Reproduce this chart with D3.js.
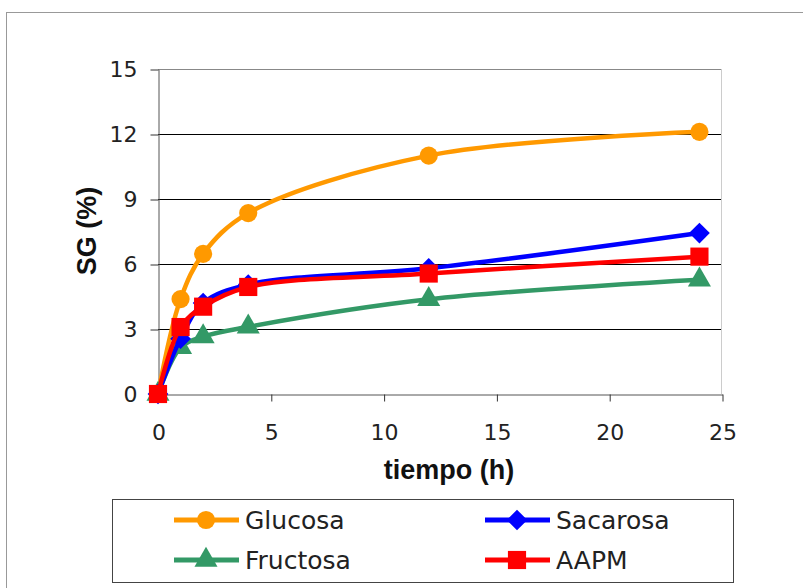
<!DOCTYPE html>
<html><head><meta charset="utf-8">
<script src="https://cdn.jsdelivr.net/npm/d3@7"></script>
<style>body{margin:0;background:#fff;} text{font-family:"DejaVu Sans",sans-serif;} text.title{font-family:"Liberation Sans",Arial,sans-serif;}</style>
</head><body><svg id="c" width="803" height="588"></svg>
<script>
const times = [0, 1, 2, 4, 12, 24];
const glucosa = [0, 4.38, 6.47, 8.35, 11.0, 12.1];
const sacarosa = [0, 2.55, 4.2, 5.05, 5.8, 7.43];
const fructosa = [0, 2.15, 2.65, 3.1, 4.37, 5.27];
const aapm = [0, 3.09, 4.03, 4.94, 5.56, 6.34];
const seriesNames = ["Glucosa", "Sacarosa", "Fructosa", "AAPM"];
const seriesColors = ["#FF9900", "#0000FF", "#339966", "#FF0000"];
const seriesSymbols = ["circle", "diamond", "triangle", "square"];
const xTicks = [0, 5, 10, 15, 20, 25];
const yTicks = [0, 3, 6, 9, 12, 15];

const svg = d3.select("#c");
svg.append("rect").attr("x",6.5).attr("y",12.5).attr("width",800).attr("height",580)
  .attr("fill","#fff").attr("stroke","#999").attr("stroke-width",1);

const x = d3.scaleLinear().domain([0,25]).range([158,722]);
const y = d3.scaleLinear().domain([0,15]).range([394,69]);

// gridlines
svg.append("g").selectAll("line").data(yTicks.filter(d=>d>0)).join("line")
  .attr("x1",158).attr("x2",722).attr("y1",d=>Math.round(y(d))+0.5).attr("y2",d=>Math.round(y(d))+0.5)
  .attr("stroke",d=>d===15?"#888":"#000").attr("stroke-width",1);
svg.append("line").attr("x1",721.5).attr("x2",721.5).attr("y1",69).attr("y2",394).attr("stroke","#ccc");

const yAxis = svg.append("g").attr("transform","translate(158.5,0.5)")
  .call(d3.axisLeft(y).tickValues(yTicks).tickSize(8).tickPadding(13).tickSizeOuter(0));
const xAxis = svg.append("g").attr("transform","translate(0.5,394.5)")
  .call(d3.axisBottom(x).tickValues(xTicks).tickSize(7).tickPadding(23).tickSizeOuter(0));
[yAxis,xAxis].forEach(a=>{
  a.select(".domain").attr("stroke","#555");
  a.selectAll(".tick line").attr("stroke","#333");
  a.selectAll("text").attr("font-size",22).attr("fill","#222").style("font-family","'DejaVu Sans', sans-serif");
});

svg.append("text").attr("class","title").attr("x",449).attr("y",479).attr("text-anchor","middle")
  .attr("font-size",27).attr("font-weight","bold").attr("fill","#111").text("tiempo (h)");
svg.append("text").attr("class","title").attr("transform","translate(96,231) rotate(-90)").attr("text-anchor","middle")
  .attr("font-size",27).attr("font-weight","bold").attr("fill","#111").text("SG (%)");

const allData = [glucosa, sacarosa, fructosa, aapm];
const symMap = {circle:d3.symbolCircle, diamond:d3.symbolSquare, triangle:d3.symbolTriangle, square:d3.symbolSquare};
const symSize = {circle:260, diamond:215, triangle:230, square:330};
const symRot = {circle:0, diamond:45, triangle:0, square:0};
const line = d3.line().x(d=>x(d[0])).y(d=>y(d[1])).curve(d3.curveCatmullRom.alpha(0.5));

const drawOrder = [0,2,1,3];
drawOrder.forEach(i=>{
  const s = seriesSymbols[i];
  const pts = times.map((t,j)=>[t, allData[i][j]]);
  svg.append("path").datum(pts).attr("d",line).attr("fill","none")
    .attr("stroke",seriesColors[i]).attr("stroke-width",4.5);
  svg.append("g").selectAll("path").data(pts).join("path")
    .attr("transform",d=>`translate(${x(d[0])},${y(d[1])}) rotate(${symRot[s]})`)
    .attr("d",d3.symbol().type(symMap[s]).size(symSize[s]))
    .attr("fill",seriesColors[i]);
});

// legend
svg.append("rect").attr("x",112.5).attr("y",499.5).attr("width",621).attr("height",83)
  .attr("fill","#fff").attr("stroke","#444");
const legPos = [[174,520],[485,520],[174,560],[485,560]];
seriesNames.forEach((n,i)=>{
  const s = seriesSymbols[i];
  const [lx,ly] = legPos[i];
  const g = svg.append("g");
  g.append("line").attr("x1",lx).attr("x2",lx+65).attr("y1",ly).attr("y2",ly)
    .attr("stroke",seriesColors[i]).attr("stroke-width",5);
  g.append("path").attr("transform",`translate(${lx+32},${ly}) rotate(${symRot[s]})`)
    .attr("d",d3.symbol().type(symMap[s]).size(symSize[s]))
    .attr("fill",seriesColors[i]);
  g.append("text").attr("x",lx+71).attr("y",ly+9).attr("font-size",25).attr("fill","#222").text(n);
});
</script></body></html>
